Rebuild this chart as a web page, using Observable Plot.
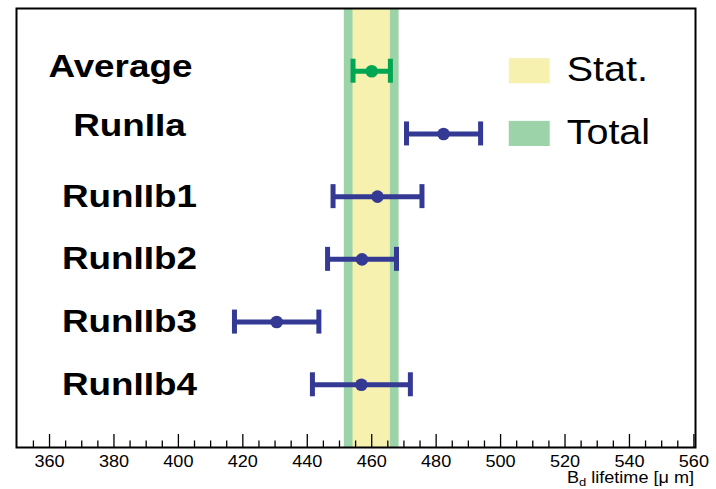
<!DOCTYPE html>
<html>
<head>
<meta charset="utf-8">
<script src="https://cdn.jsdelivr.net/npm/d3@7"></script>
<script src="https://cdn.jsdelivr.net/npm/@observablehq/plot@0.6"></script>
<style>
  body { margin: 0; background: #fff; }
  #chart svg { display: block; }
</style>
</head>
<body>
<div id="chart"></div>
<script>
// B_d lifetime measurements per run period, with the combined average
const runs = ["Average", "RunIIa", "RunIIb1", "RunIIb2", "RunIIb3", "RunIIb4"];
const lifetime = [460.0, 482.3, 461.8, 457.0, 430.5, 456.8];
const error = [5.8, 11.5, 13.8, 10.7, 13.1, 15.2];

// Average uncertainty bands
const avgLifetime = 460.0;
const avgStat = 5.8;
const avgTotal = 8.5;

// Legend entries
const legendLabels = ["Stat.", "Total"];
const legendColors = ["#f6f1af", "#9dd3a9"];

// Axis ticks
const majorTicks = [360, 380, 400, 420, 440, 460, 480, 500, 520, 540, 560];
const minorTicks = [355, 365, 370, 375, 385, 390, 395, 405, 410, 415, 425, 430, 435,
  445, 450, 455, 465, 470, 475, 485, 490, 495, 505, 510, 515, 525, 530, 535, 545, 550, 555];

const blue = "#343994";
const green = "#00a651";
const font = "Liberation Sans";
const textStretch = 1.13;    // wide Helvetica-style lettering
const labelStretch = 1.17;   // run labels are a little wider still

const rows = runs.map((name, i) => ({
  name, i,
  value: lifetime[i],
  lo: lifetime[i] - error[i],
  hi: lifetime[i] + error[i],
  color: i === 0 ? green : blue
}));
const bands = [
  {lo: avgLifetime - avgTotal, hi: avgLifetime + avgTotal, color: legendColors[1]},
  {lo: avgLifetime - avgStat, hi: avgLifetime + avgStat, color: legendColors[0]}
];
const legend = legendLabels.map((label, i) => ({label, i, color: legendColors[i]}));

const pxPerRow = (489 - 42 - 8) / 7;   // y scale: one unit per row
const capHalf = 12 / pxPerRow;
const bottom = 6;

const chart = Plot.plot({
  width: 716,
  height: 489,
  marginLeft: 16,
  marginRight: 21,
  marginTop: 8,
  marginBottom: 42,
  style: {fontFamily: font, fontSize: "16px", color: "black", background: "white"},
  x: {domain: [349.75, 560.5], ticks: majorTicks, tickSize: 0, tickPadding: 8, tickFormat: d => d, label: null},
  y: {domain: [-1, 6], reverse: true, axis: null},
  color: {type: "identity"},
  marks: [
    Plot.rect(bands, {x1: "lo", x2: "hi", y1: -1, y2: 6, fill: "color"}),
    // error bars
    Plot.ruleY(rows, {y: "i", x1: "lo", x2: "hi", stroke: "color", strokeWidth: 5}),
    Plot.ruleX(rows, {x: "lo", y1: d => d.i - capHalf, y2: d => d.i + capHalf, stroke: "color", strokeWidth: 5}),
    Plot.ruleX(rows, {x: "hi", y1: d => d.i - capHalf, y2: d => d.i + capHalf, stroke: "color", strokeWidth: 5}),
    Plot.dot(rows, {x: "value", y: "i", r: 6.3, fill: "color"}),
    // run labels
    Plot.text(rows.filter(d => d.i === 0), {x: 382.0, y: "i", text: "name", dy: -4,
      fontFamily: font, fontWeight: "bold", fontSize: 31.5, fill: "black"}),
    Plot.text(rows.filter(d => d.i === 1), {x: 384.8, y: "i", text: "name", dy: -8.5,
      fontFamily: font, fontWeight: "bold", fontSize: 31.5, fill: "black"}),
    Plot.text(rows.filter(d => d.i > 1), {x: 384.8, y: "i", text: "name",
      fontFamily: font, fontWeight: "bold", fontSize: 31.5, fill: "black"}),
    // legend
    Plot.rect(legend, {x1: 502.7, x2: 515.4, y1: d => d.i - 0.2, y2: d => d.i + 0.2, fill: "color"}),
    Plot.text(legend, {x: 520.5, y: "i", text: "label", textAnchor: "start", dy: -1.5,
      fontFamily: font, fontSize: 35, fill: "black"}),
    // inward ticks on the bottom axis
    Plot.ruleX(majorTicks, {x: d => d, y1: bottom, y2: bottom - 13 / pxPerRow, stroke: "black", strokeWidth: 1.3}),
    Plot.ruleX(minorTicks, {x: d => d, y1: bottom, y2: bottom - 6.5 / pxPerRow, stroke: "black", strokeWidth: 1.3}),
    Plot.frame({stroke: "black", strokeWidth: 2})
  ]
});

const svg = d3.select(chart);

// tick labels at the same size as the axis title
svg.selectAll("g[aria-label*='x-axis'] text, g[aria-label*='x-axis'] g text")
  .attr("font-size", 16).style("font-size", "16px");

// axis title with subscript
const title = svg.append("text")
  .attr("x", 694).attr("y", 483)
  .attr("text-anchor", "end")
  .attr("font-family", font)
  .attr("font-size", 16)
  .attr("fill", "black");
title.append("tspan").text("B");
title.append("tspan").attr("font-size", 11.5).attr("dy", 3.5).text("d");
title.append("tspan").attr("dy", -3.5).text(" lifetime [\u03bc m]");

// widen every text horizontally around its anchor point
svg.selectAll("text").each(function() {
  const el = d3.select(this);
  const bold = this.closest("[font-weight=bold]") !== null;
  const s = bold ? labelStretch : textStretch;
  const x = +el.attr("x") || 0;
  const t = el.attr("transform") || "";
  el.attr("transform", `${t} translate(${x},0) scale(${s},1) translate(${-x},0)`);
});

document.getElementById("chart").appendChild(chart);
</script>
</body>
</html>
